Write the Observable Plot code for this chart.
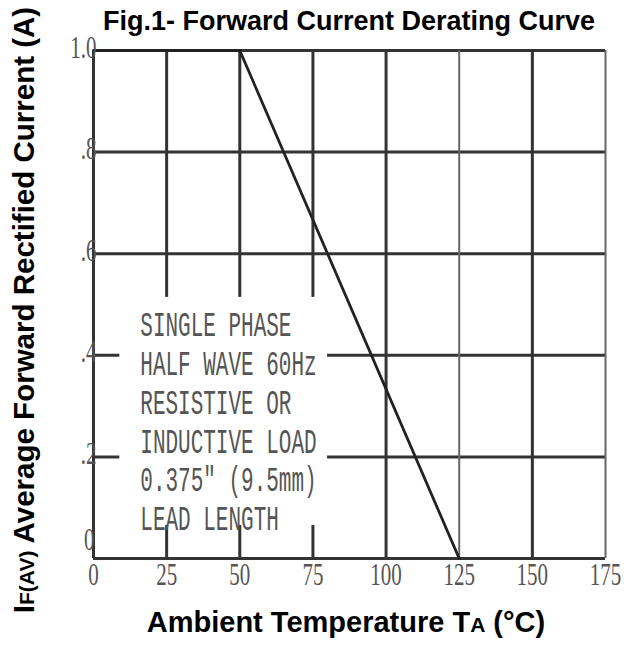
<!DOCTYPE html>
<html><head><meta charset="utf-8">
<script src="https://cdn.jsdelivr.net/npm/d3@7"></script>
<script src="https://cdn.jsdelivr.net/npm/@observablehq/plot@0.6"></script>
<style>body{margin:0;background:#fff}</style>
</head><body><div id="chart"></div>
<script>
// ---- data ----
const temps = [0, 50, 125];
const current = [1.0, 1.0, 0];
const xTicks = [0, 25, 50, 75, 100, 125, 150, 175];
const xTickLabels = ["0", "25", "50", "75", "100", "125", "150", "175"];
const yTicks = [0, 0.2, 0.4, 0.6, 0.8, 1.0];
const yTickLabels = ["0", ".2", ".4", ".6", ".8", "1.0"];
const minorX = [125, 175];
const noteLines = ["SINGLE PHASE", "HALF WAVE 60Hz", "RESISTIVE OR", "INDUCTIVE LOAD", "0.375\u2033 (9.5mm)", "LEAD LENGTH"];
const noteBox = [{x1: 9, x2: 80, y1: 0.065, y2: 0.514}];
const noteAnchor = [{x: 16, y: 0.492}];
const titleText = "Fig.1- Forward Current Derating Curve";
const xLabelParts = ["Ambient Temperature T", "A", " (\u00B0C)"];
const yLabelParts = ["I", "F(AV)", " Average Forward Rectified Current (A)"];

// ---- derived tables ----
const curve = temps.map((t, i) => ({t, c: current[i]}));
const xRows = xTicks.map((v, i) => ({v, label: xTickLabels[i]}));
const yRows = yTicks.map((v, i) => ({v, label: yTickLabels[i]}));

const tickFont = "Liberation Serif";
const noteFont = "Liberation Mono";

const svg = Plot.plot({
  width: 624, height: 660,
  marginTop: 50, marginBottom: 102, marginLeft: 93, marginRight: 19,
  x: {domain: [0, 175], axis: null},
  y: {domain: [0, 1], axis: null},
  marks: [
    Plot.ruleY(yTicks, {stroke: "#333", strokeWidth: 3}),
    Plot.ruleX(xTicks, {filter: d => !minorX.includes(d), stroke: "#333", strokeWidth: 3}),
    Plot.ruleX(minorX, {stroke: "#666", strokeWidth: 2}),
    Plot.rect(noteBox, {x1: "x1", x2: "x2", y1: "y1", y2: "y2", fill: "white"}),
    Plot.line(curve, {x: "t", y: "c", stroke: "#222", strokeWidth: 2.8}),
    Plot.text(xRows, {x: "v", frameAnchor: "bottom", dy: 26, text: "label",
      fontFamily: tickFont, fontSize: 21, fill: "#555"}),
    Plot.text(yRows.filter(d => d.v > 0), {y: "v", frameAnchor: "left", dx: 3, dy: -3, textAnchor: "end", text: "label",
      fontFamily: tickFont, fontSize: 21, fill: "#555"}),
    Plot.text(yRows.filter(d => d.v === 0), {y: "v", frameAnchor: "left", dx: 1, dy: -19, textAnchor: "end", text: "label",
      fontFamily: tickFont, fontSize: 21, fill: "#555"}),
    Plot.text(noteAnchor, {x: "x", y: "y", text: () => noteLines.join("\n"), textAnchor: "start", lineAnchor: "top",
      lineHeight: 1.12, fontFamily: noteFont, fontSize: 21, fill: "#555"})
  ]
});

// stretch condensed-looking text vertically about its own anchor
function stretch(sel, k) {
  sel.each(function() {
    const t = this.getAttribute("transform");
    if (t) {
      this.setAttribute("transform", t + ` scale(1,${k})`);
    } else {
      const x = +(this.getAttribute("x") || 0), y = +(this.getAttribute("y") || 0);
      this.setAttribute("transform", `translate(${x},${y}) scale(1,${k}) translate(${-x},${-y})`);
    }
  });
}
const s = d3.select(svg);
stretch(s.selectAll('g[font-family="Liberation Serif"] text'), 1.5);
stretch(s.selectAll('g[font-family="Liberation Mono"] text'), 1.65);

const labelFont = "'Liberation Sans', Arial, sans-serif";
s.append("text").attr("x", 349).attr("y", 30).attr("text-anchor", "middle")
  .attr("font-family", labelFont).attr("font-weight", "bold").attr("font-size", 27).attr("fill", "#000")
  .text(titleText);

const xl = s.append("text").attr("x", 346).attr("y", 632).attr("text-anchor", "middle")
  .attr("font-family", labelFont).attr("font-weight", "bold").attr("font-size", 29).attr("fill", "#000");
xl.append("tspan").text(xLabelParts[0]);
xl.append("tspan").attr("font-size", 21).text(xLabelParts[1]);
xl.append("tspan").text(xLabelParts[2]);

const yl = s.append("text").attr("transform", "translate(34,310) rotate(-90)").attr("text-anchor", "middle")
  .attr("font-family", labelFont).attr("font-weight", "bold").attr("font-size", 29.5).attr("fill", "#000");
yl.append("tspan").text(yLabelParts[0]);
yl.append("tspan").attr("font-size", 21).text(yLabelParts[1]);
yl.append("tspan").text(yLabelParts[2]);

document.getElementById("chart").appendChild(svg);
</script>
</body></html>
